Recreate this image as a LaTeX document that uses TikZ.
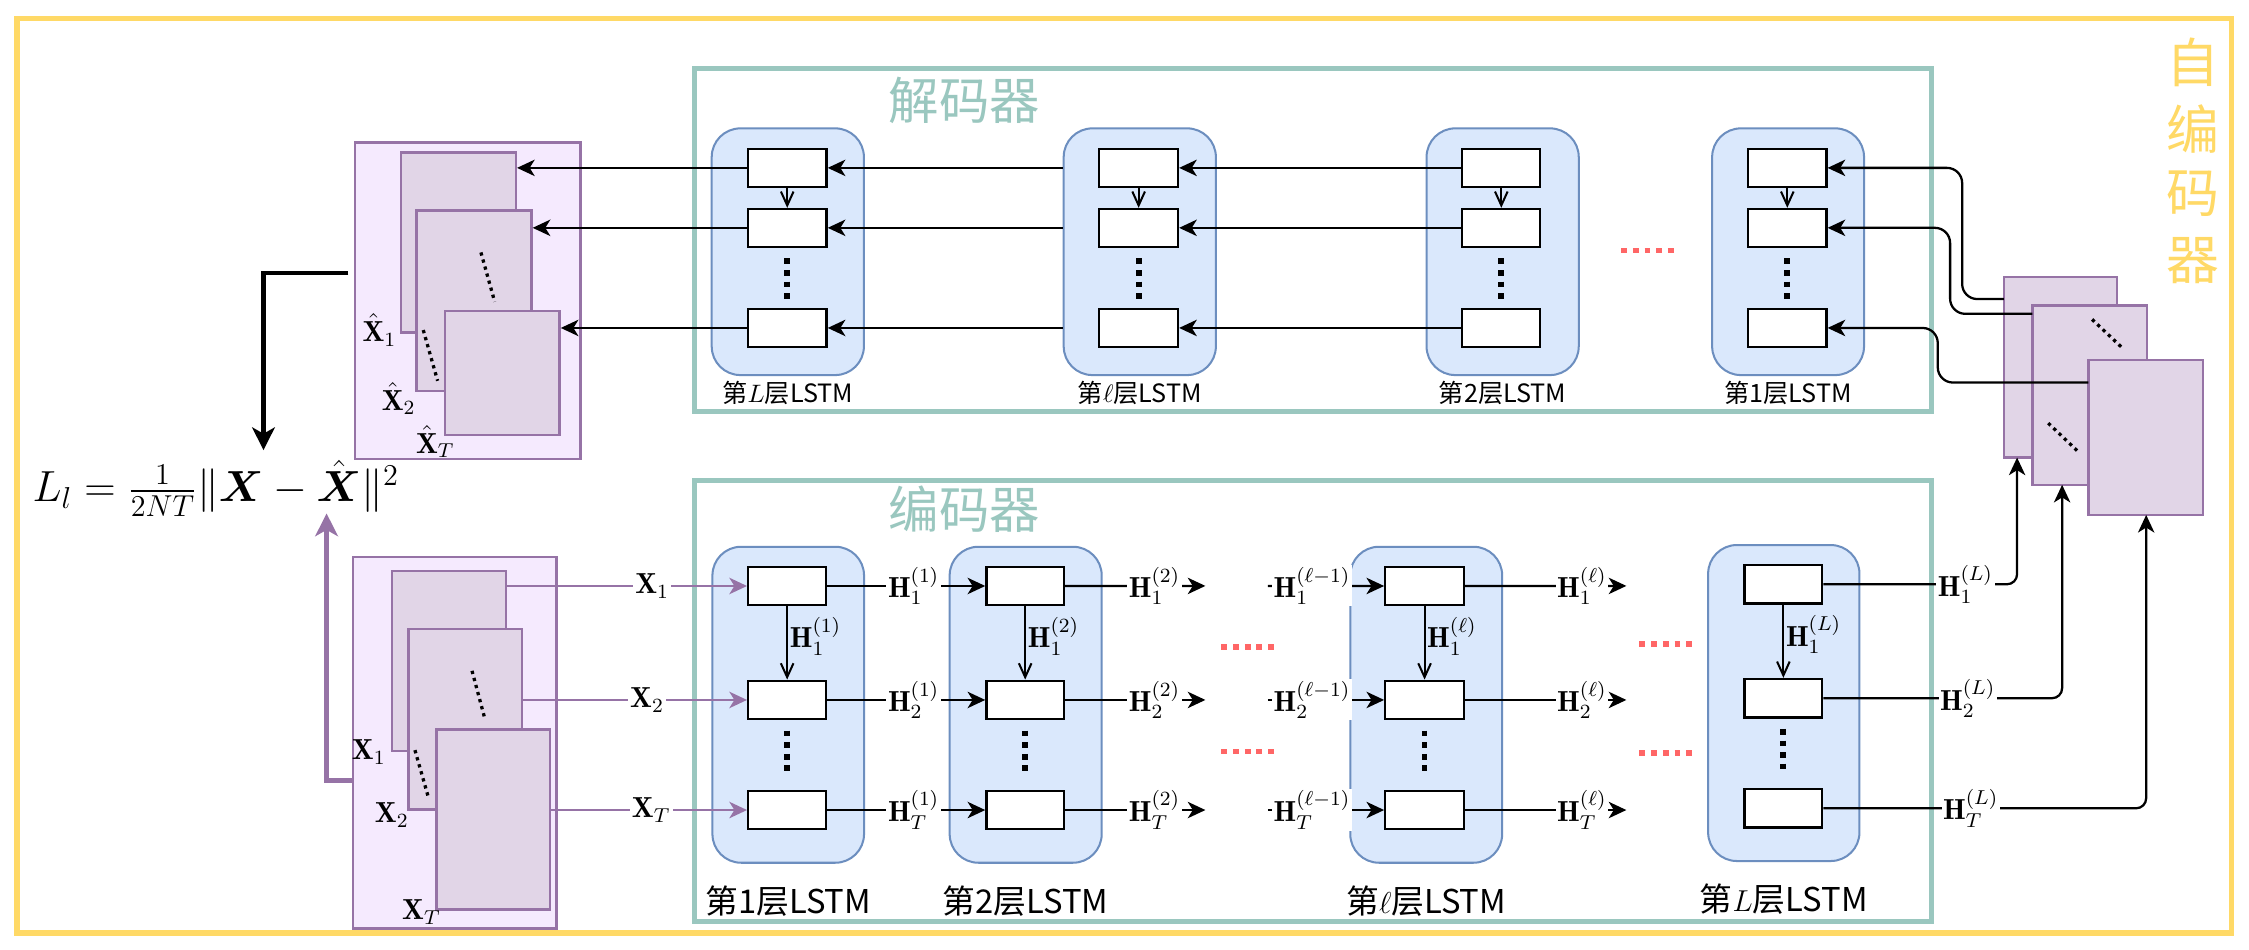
\documentclass[tikz,border=0pt]{standalone}
\usepackage{amsmath}
\usepackage{fontspec}
\newfontfamily\cjk{Noto Sans CJK SC}
\usetikzlibrary{arrows.meta,fit,calc}
\definecolor{yel}{HTML}{FFD966}
\definecolor{tealc}{HTML}{9AC7BF}
\definecolor{bfill}{HTML}{DAE8FC}
\definecolor{bdraw}{HTML}{6C8EBF}
\definecolor{pfill}{HTML}{E1D5E7}
\definecolor{pdraw}{HTML}{9673A6}
\definecolor{pout}{HTML}{F5EAFE}
\definecolor{reddot}{HTML}{FF6666}
\newcommand\hsz{\fontsize{11.5}{13}\selectfont}
\begin{document}
\begin{tikzpicture}[x=0.02cm,y=-0.02cm,
  box/.style={draw=black,line width=0.9pt,fill=white,inner sep=0pt},
  col/.style={draw=bdraw,line width=0.8pt,fill=bfill,rounded corners=0.4cm,inner sep=0pt},
  frm/.style={draw=tealc,line width=2pt,inner sep=0pt},
  stk/.style={draw=pdraw,line width=1pt,fill=pfill,inner sep=0pt},
  stkout/.style={draw=pdraw,line width=1pt,fill=pout,inner sep=0pt},
  arr/.style={line width=0.9pt,-{Stealth[length=7pt,width=6.5pt,inset=2pt]}},
  parr/.style={draw=pdraw,line width=1pt,-{Stealth[length=7pt,width=6.5pt,inset=2pt]}},
  varr/.style={line width=0.8pt,-{Straight Barb[length=5.5pt,width=5pt]}},
  vdots/.style={line width=2.3pt,dash pattern=on 2.3pt off 2.3pt},
  rdots/.style={draw=reddot,line width=2.1pt,dash pattern=on 2.3pt off 2.35pt},
  sdots/.style={line width=1.3pt,dash pattern=on 1.3pt off 1.6pt},
  hlab/.style={inner sep=0.6pt,fill=white,font=\hsz},
  vlab/.style={inner sep=0pt,anchor=west,font=\hsz},
  xlab/.style={inner sep=0.8pt,fill=white,font=\hsz},
  declab/.style={font=\cjk\fontsize{10}{11}\selectfont},
  enclab/.style={font=\cjk\fontsize{13}{14}\selectfont},
  title/.style={text=tealc,font=\cjk\fontsize{20}{20}\selectfont},
  auto/.style={text=yel,font=\cjk\fontsize{21}{21}\selectfont}
]
\useasboundingbox (0,0) rectangle (1568,662);
\fill[white] (0,0) rectangle (1568,662);

% outer frame and title
\node[draw=yel,line width=2.2pt,inner sep=0pt,fit={(12,13) (1555.8,650.5)}] (outer) {};
\node[auto] (a1) at (1529,43.4) {自};
\node[auto] (a2) at (1529,89.9) {编};
\node[auto] (a3) at (1529,135.1) {码};
\node[auto] (a4) at (1529,181.6) {器};

% decoder / encoder frames
\node[frm,fit={(484.2,47.7) (1346.4,287)}] (dec) {};
\node[frm,fit={(484.2,335) (1346.4,642.5)}] (enc) {};
\node[title] (dectitle) at (672.4,69.7) {解码器};
\node[title] (enctitle) at (672.4,355) {编码器};

% decoder columns
\foreach \n/\xa/\xb/\ba/\bb/\lab in {
  1/496.2/602.3/521.4/576.3/{第$L$层LSTM},
  2/741.6/847.7/766.4/821.3/{第$\ell$层LSTM},
  3/994.6/1100.7/1019.5/1073.9/{第2层LSTM},
  4/1193.7/1299.6/1218.8/1273.4/{第1层LSTM}}{
  \node[col,fit={(\xa,89.5) (\xb,261.5)}] (d\n) {};
  \node[box,fit={(\ba,103.9) (\bb,130.2)}] (d\n-a) {};
  \node[box,fit={(\ba,145.7) (\bb,172)}] (d\n-b) {};
  \node[box,fit={(\ba,215.5) (\bb,241.8)}] (d\n-c) {};
  \draw[vdots] ($(d\n-b.south)+(0,7.4)$) -- ($(d\n-b.south)+(0,36)$);
  \draw[varr] (d\n-a) -- (d\n-b);
  \node[declab] (d\n-l) at ($(d\n.south)+(0,11.6)$) {\lab};
}
\draw[rdots] (1130.2,174.8) -- (1167.7,174.8);

% encoder columns
\foreach \n/\xa/\xb/\ba/\bb/\ya/\q/\lab in {
  1/496.7/602.4/521.6/576/381.2/1/{第1层LSTM},
  2/662.1/768.1/687.7/741.8/381.2/2/{第2层LSTM},
  3/941.4/1047.3/965.8/1020.6/381.2/\ell/{第$\ell$层LSTM},
  4/1190.9/1296.4/1216.2/1270.5/380/L/{第$L$层LSTM}}{
  \node[col,fit={(\xa,\ya) (\xb,\ya+220.3)}] (e\n) {};
  \node[box,fit={(\ba,\ya+14) (\bb,\ya+40.7)}] (e\n-a) {};
  \node[box,fit={(\ba,\ya+93.4) (\bb,\ya+120.2)}] (e\n-b) {};
  \node[box,fit={(\ba,\ya+170.2) (\bb,\ya+196.9)}] (e\n-c) {};
  \draw[vdots] ($(e\n-b.south)+(0,7.2)$) -- ($(e\n-b.south)+(0,36)$);
  \draw[varr] (e\n-a) -- (e\n-b);
  \node[vlab] (e\n-v) at ($(e\n-a.south)+(1.5,21)$) {$\mathbf{H}_1^{(\q)}$};
  \node[enclab] (e\n-l) at ($(e\n.south)+(0,26)$) {\lab};
}
\draw[rdots] (851.5,451) -- (889.4,451);
\draw[rdots] (851.5,523.7) -- (889.4,523.7);
\draw[rdots] (1143,449) -- (1180.6,449);
\draw[rdots] (1143,524.9) -- (1180.6,524.9);

% reconstructed stack (left, top)
\node[stkout,fit={(247.5,99.5) (404.7,320.1)}] (XHo) {};
\node[stk,fit={(279.6,106.5) (359.6,232)}] (XH1) {};
\node[stk,fit={(290.5,146.9) (370.5,272.7)}] (XH2) {};
\node[stk,fit={(310.4,216.7) (390.1,303.3)}] (XH3) {};
\draw[sdots] (335.3,176) -- (344.9,210.4);
\draw[sdots] (295.1,230.1) -- (305.1,265.5);
\node[font=\hsz,inner sep=0pt] (xh1l) at (264.6,230.1) {$\hat{\mathbf{X}}_1$};
\node[font=\hsz,inner sep=0pt] (xh2l) at (278,277.8) {$\hat{\mathbf{X}}_2$};
\node[font=\hsz,inner sep=0pt] (xh3l) at (303.5,308) {$\hat{\mathbf{X}}_T$};

% input stack (left, bottom)
\node[stkout,fit={(246.2,388.2) (388.1,647.4)}] (Xo) {};
\node[stk,fit={(273.2,398.2) (352.9,523.7)}] (XF1) {};
\node[stk,fit={(284.7,438.6) (364,564.2)}] (XF2) {};
\node[stk,fit={(304.2,508.6) (383.5,634)}] (XF3) {};
\draw[sdots] (329.1,467.7) -- (338.3,502.1);
\draw[sdots] (289.3,523) -- (298.9,556.7);
\node[font=\hsz,inner sep=0pt] (x1l) at (257.2,524.2) {$\mathbf{X}_1$};
\node[font=\hsz,inner sep=0pt] (x2l) at (273.2,568.3) {$\mathbf{X}_2$};
\node[font=\hsz,inner sep=0pt] (x3l) at (293.9,635.8) {$\mathbf{X}_T$};

% hidden-state stack (right)
\node[stk,fit={(1397,193) (1476,319)}] (R1) {};
\node[stk,fit={(1417,213) (1497,338)}] (R2) {};
\node[stk,fit={(1456,251) (1536,359)}] (R3) {};
\draw[sdots] (1458.6,222.7) -- (1479.4,242.3);
\draw[sdots] (1428,295) -- (1449,315);

% loss
\node[anchor=base,font=\fontsize{17}{20}\selectfont,inner sep=0pt] (loss) at (150.5,349.8)
  {$L_l = \frac{1}{2NT}\|\boldsymbol{X} - \hat{\boldsymbol{X}}\|^2$};
\coordinate (lossA) at (242.8,190.2);
\coordinate (lossT) at (183.7,313.8);
\draw[line width=1.7pt,-{Stealth[length=9pt,width=9pt,inset=2.5pt]}] (lossA) -| (lossT);
\coordinate (lpc) at (227.7,544);
\coordinate (lossP) at (227.7,358);
\draw[draw=pdraw,line width=1.8pt,-{Stealth[length=9pt,width=9pt,inset=2.5pt]}] (Xo.west |- lpc) -| (lossP);

% decoder connections
\foreach \r in {a,b,c}{
  \draw[arr] (d2.west |- d2-\r) -- (d1-\r.east);
  \draw[arr] (d3-\r.west) -- (d2-\r.east);
}
\draw[arr] (d1-a.west) -- (XH1.east |- d1-a);
\draw[arr] (d1-b.west) -- (XH2.east |- d1-b);
\draw[arr] (d1-c.west) -- (XH3.east |- d1-c);

\coordinate (r1s) at (1397,208.5);
\coordinate (r2s) at (1417,218.8);
\coordinate (r3s) at (1456,266.7);
\draw[arr,rounded corners=6pt] (r1s) -- (1368,208.5) |- (d4-a.east);
\draw[arr,rounded corners=6pt] (r2s) -- (1359.6,218.8) |- (d4-b.east);
\draw[arr,rounded corners=6pt] (r3s) -- (1351,266.7) |- (d4-c.east);

% encoder inputs
\draw[parr] (XF1.east |- e1-a) -- (e1-a.west);
\draw[parr] (XF2.east |- e1-b) -- (e1-b.west);
\draw[parr] (XF3.east |- e1-c) -- (e1-c.west);
\node[xlab] (xin1) at (454.7,408.5) {$\mathbf{X}_1$};
\node[xlab] (xin2) at (451.2,488) {$\mathbf{X}_2$};
\node[xlab] (xin3) at (454,564.75) {$\mathbf{X}_T$};

% encoder hidden-state connections
\foreach \r/\s/\y in {a/1/408.5,b/2/488,c/T/564.75}{
  \coordinate (o2-\r) at (840.4,\y);
  \coordinate (s3-\r) at (884,\y);
  \coordinate (o3-\r) at (1133.9,\y);
  \draw[arr] (e1-\r.east) -- (e2-\r.west);
  \node[hlab] (h1-\r) at (637,\y) {$\mathbf{H}_{\s}^{(1)}$};
  \draw[arr] (e2-\r.east) -- (o2-\r);
  \node[hlab] (h2-\r) at (804.9,\y) {$\mathbf{H}_{\s}^{(2)}$};
  \draw[arr] (s3-\r) -- (e3-\r.west);
  \node[hlab] (h3-\r) at (914.7,\y) {$\mathbf{H}_{\s}^{(\ell-1)}$};
  \draw[arr] (e3-\r.east) -- (o3-\r);
  \node[hlab] (h4-\r) at (1102.9,\y) {$\mathbf{H}_{\s}^{(\ell)}$};
}

\coordinate (r1b) at (1406.3,319);
\coordinate (r2b) at (1437.7,338);
\coordinate (r3b) at (1496.3,359);
\draw[arr,rounded corners=4pt] (e4-a.east) -| (r1b);
\draw[arr,rounded corners=4pt] (e4-b.east) -| (r2b);
\draw[arr,rounded corners=4pt] (e4-c.east) -| (r3b);
\node[hlab] (hL-a) at (1370.3,407.5) {$\mathbf{H}_1^{(L)}$};
\node[hlab] (hL-b) at (1371.9,487) {$\mathbf{H}_2^{(L)}$};
\node[hlab] (hL-c) at (1374,563.6) {$\mathbf{H}_T^{(L)}$};
\end{tikzpicture}
\end{document}
